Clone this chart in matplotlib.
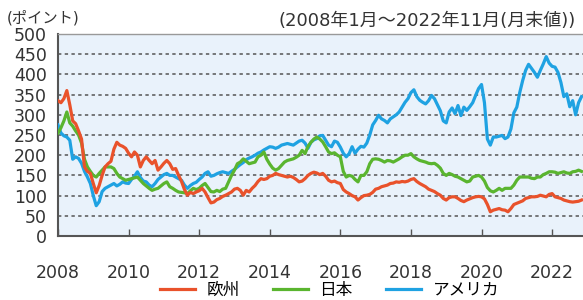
#%% 1-Importation

import numpy as np
import matplotlib.pyplot as plt

plt.rcParams['font.family'] = ['DejaVu Sans', 'Noto Sans CJK JP']

#%% 2-Donnees (valeurs mensuelles, 2008/01 - 2022/11)

europe = [
    335, 330, 340, 360, 325, 285, 278, 260, 240, 171, 160, 155,   # 2008
    130, 107, 125, 150, 171, 179, 185, 215, 232, 225, 222, 217,   # 2009
    205, 196, 208, 200, 171, 187, 196, 187, 179, 187, 163, 171,   # 2010
    180, 187, 179, 165, 167, 150, 135, 115, 101, 108, 105, 109,   # 2011
    112, 118, 109, 95, 82, 84, 90, 93, 98, 101, 105, 109,         # 2012
    116, 118, 113, 101, 113, 109, 118, 125, 135, 142, 140, 142,   # 2013
    148, 150, 155, 152, 150, 148, 146, 148, 145, 140, 134, 136,   # 2014
    142, 150, 155, 158, 156, 152, 155, 148, 138, 134, 136, 132,   # 2015
    130, 115, 109, 105, 100, 97, 89, 95, 100, 101, 103, 108,      # 2016
    116, 118, 122, 124, 126, 130, 131, 134, 133, 135, 134, 136,   # 2017
    140, 142, 135, 130, 126, 122, 116, 113, 110, 105, 101, 93,    # 2018
    89, 95, 97, 97, 93, 88, 85, 89, 92, 95, 97, 98,               # 2019
    97, 92, 78, 60, 64, 66, 68, 65, 64, 60, 68, 78,               # 2020
    81, 84, 87, 93, 95, 97, 97, 98, 101, 99, 97, 103,             # 2021
    105, 97, 95, 93, 89, 87, 85, 84, 85, 86, 89,                  # 2022
]

japon = [
    255, 268, 285, 307, 280, 272, 260, 250, 230, 190, 171, 160,   # 2008
    150, 146, 155, 163, 171, 171, 171, 167, 155, 146, 142, 138,   # 2009
    140, 142, 144, 146, 138, 130, 124, 118, 113, 116, 118, 124,   # 2010
    130, 134, 122, 118, 113, 109, 108, 107, 105, 112, 118, 115,   # 2011
    118, 125, 130, 120, 110, 109, 113, 110, 116, 118, 134, 150,   # 2012
    163, 179, 183, 191, 185, 179, 181, 183, 196, 200, 208, 190,   # 2013
    178, 168, 163, 167, 175, 183, 187, 189, 191, 195, 200, 212,   # 2014
    204, 222, 232, 240, 245, 240, 233, 221, 208, 204, 206, 200,   # 2015
    196, 160, 146, 150, 148, 140, 134, 150, 150, 159, 179, 190,   # 2016
    191, 190, 187, 183, 187, 186, 183, 187, 191, 196, 200, 200,   # 2017
    204, 196, 191, 187, 185, 183, 180, 179, 180, 175, 168, 155,   # 2018
    150, 155, 152, 148, 146, 142, 138, 134, 136, 146, 148, 150,   # 2019
    146, 136, 120, 112, 109, 113, 118, 113, 118, 118, 118, 126,   # 2020
    138, 146, 146, 146, 146, 143, 142, 146, 146, 152, 155, 159,   # 2021
    159, 158, 155, 157, 159, 156, 155, 159, 160, 163, 160,        # 2022
]

amerique = [
    275, 255, 248, 245, 237, 190, 196, 192, 180, 160, 146, 130,   # 2008
    100, 75, 85, 110, 118, 122, 126, 130, 124, 128, 134, 131,     # 2009
    130, 140, 148, 159, 145, 136, 134, 126, 122, 130, 140, 146,   # 2010
    152, 155, 150, 150, 146, 142, 138, 126, 118, 125, 130, 133,   # 2011
    140, 146, 155, 159, 148, 150, 154, 157, 159, 157, 155, 160,   # 2012
    165, 171, 177, 182, 189, 193, 196, 200, 205, 208, 213, 217,   # 2013
    221, 220, 217, 220, 225, 227, 229, 227, 225, 230, 235, 237,   # 2014
    230, 217, 232, 238, 241, 248, 249, 237, 225, 221, 235, 232,   # 2015
    220, 205, 196, 204, 221, 205, 215, 222, 220, 230, 250, 275,   # 2016
    286, 299, 290, 286, 280, 290, 295, 300, 307, 319, 331, 340,   # 2017
    355, 362, 345, 336, 331, 327, 335, 348, 340, 325, 310, 285,   # 2018
    280, 307, 317, 303, 323, 298, 319, 311, 320, 330, 348, 365,   # 2019
    375, 330, 240, 225, 245, 245, 247, 249, 241, 245, 265, 305,   # 2020
    319, 355, 385, 410, 425, 415, 405, 393, 410, 426, 444, 428,   # 2021
    420, 418, 405, 380, 345, 352, 320, 335, 300, 330, 345,        # 2022
]

labels = ['欧州', '日本', 'アメリカ']
couleurs = ['#e9522b', '#5ab52f', '#1fa2e2']
annees = [2008, 2010, 2012, 2014, 2016, 2018, 2020, 2022]

t = 2008 + np.arange(len(europe)) / 12

#%% 3-Affichage

fig = plt.figure(figsize=(5.83, 3.0), dpi=100)
ax = fig.add_axes([0.0995, 0.2133, 0.905, 0.6733])
ax.set_facecolor('#e9f2fb')

ax.plot(t, amerique, color=couleurs[2], lw=2.3, label=labels[2], zorder=3)
ax.plot(t, japon, color=couleurs[1], lw=2.3, label=labels[1], zorder=4)
ax.plot(t, europe, color=couleurs[0], lw=2.3, label=labels[0], zorder=5)

ax.set_xlim(2008, 2022.95)
ax.set_ylim(0, 500)
ax.set_yticks(range(0, 501, 50))
ax.set_xticks(annees)
ax.tick_params(axis='y', length=0, pad=8, labelsize=12.5, labelcolor='#333333')
ax.tick_params(axis='x', direction='in', length=5, width=1, color='#555555',
               pad=20, labelsize=12.5, labelcolor='#333333')

for v in range(50, 500, 50):
    ax.axhline(v, color='#555555', lw=1.1, ls=(0, (2.2, 2.2)), zorder=1)

for s in ['left', 'bottom']:
    ax.spines[s].set_color('#555555')
    ax.spines[s].set_linewidth(1.5)
ax.spines['top'].set_color('#999999')
ax.spines['top'].set_linewidth(1.0)
ax.spines['right'].set_visible(False)

fig.text(0.012, 0.94, '(ポイント)', fontsize=11, color='#333333', va='center')
fig.text(0.478, 0.93, '(2008年1月～2022年11月(月末値))', fontsize=13,
         color='#333333', va='center')

h, l = ax.get_legend_handles_labels()
fig.legend(h[::-1], l[::-1], ncol=3, loc='center', bbox_to_anchor=(0.565, 0.035),
           frameon=False, fontsize=12, handlelength=2.1, handletextpad=0.7,
           columnspacing=2.0, borderpad=0)

fig.savefig('out.png', dpi=100)
